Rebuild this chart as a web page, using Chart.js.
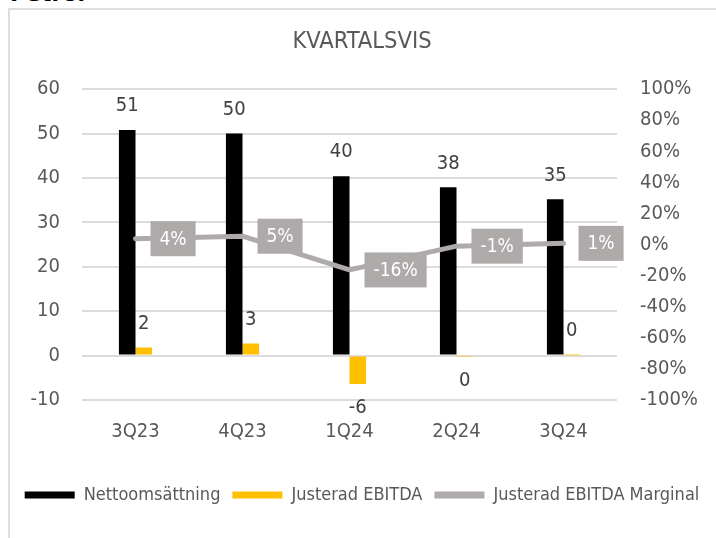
<!DOCTYPE html>
<html>
<head>
<meta charset="utf-8">
<script src="https://cdn.jsdelivr.net/npm/chart.js@4"></script>
<style>
  html, body { margin: 0; padding: 0; width: 716px; height: 538px; overflow: hidden; background: #ffffff; }
  #frame { position: absolute; left: 8px; top: 8px; width: 800px; height: 700px; border: 2px solid #dedede; box-sizing: border-box; }
  #head { position: absolute; left: 10px; top: -17px; font: bold 22px 'DejaVu Sans', sans-serif; line-height: 22px; color: #000; }
  #wrap { position: absolute; left: 0; top: 0; width: 716px; height: 538px; }
</style>
</head>
<body>
<div id="head">Petrol</div>
<div id="frame"></div>
<div id="wrap"><canvas id="c" width="716" height="538"></canvas></div>
<script>
const categories = ['3Q23', '4Q23', '1Q24', '2Q24', '3Q24'];
const nettoomsattning = [50.8, 50.0, 40.4, 37.9, 35.2];
const justeradEbitda = [1.8, 2.7, -6.4, -0.3, 0.1];
const ebitdaMarginal = [0.038, 0.054, -0.163, -0.010, 0.008];
const seriesNames = ['Nettoomsättning', 'Justerad EBITDA', 'Justerad EBITDA Marginal'];
const titleText = 'KVARTALSVIS';

const FONT = "'DejaVu Sans Condensed', 'DejaVu Sans', sans-serif";
const TEXT = '#595959';
const GRAY = '#AEAAAA';

const labelPlugin = {
  id: 'valueLabels',
  afterDatasetsDraw(chart) {
    const ctx = chart.ctx;
    ctx.save();
    [0, 1].forEach(di => {
      const meta = chart.getDatasetMeta(di);
      const data = chart.data.datasets[di].data;
      meta.data.forEach((el, i) => {
        const v = data[i];
        const r = Math.round(v);
        const txt = String(r === 0 ? 0 : r);
        ctx.font = '20px ' + FONT;
        ctx.fillStyle = '#404040';
        ctx.textAlign = 'center';
        ctx.textBaseline = 'middle';
        const y = v >= 0 ? el.y - 24 : el.y + 24;
        ctx.fillText(txt, el.x, y);
      });
    });
    const meta = chart.getDatasetMeta(2);
    const data = chart.data.datasets[2].data;
    meta.data.forEach((el, i) => {
      const txt = Math.round(data[i] * 100) + '%';
      ctx.font = '19px ' + FONT;
      const w = ctx.measureText(txt).width + 18;
      const h = 35;
      const bx = el.x + 15;
      const by = el.y - h / 2;
      ctx.fillStyle = GRAY;
      ctx.fillRect(bx, by, w, h);
      ctx.fillStyle = '#ffffff';
      ctx.textAlign = 'center';
      ctx.textBaseline = 'middle';
      ctx.fillText(txt, bx + w / 2, el.y + 1);
    });
    ctx.restore();
  }
};

new Chart(document.getElementById('c'), {
  type: 'bar',
  data: {
    labels: categories,
    datasets: [
      { type: 'bar', label: seriesNames[0], data: nettoomsattning, backgroundColor: '#000000', yAxisID: 'y', order: 1,
        categoryPercentage: 0.31, barPercentage: 1.0 },
      { type: 'bar', label: seriesNames[1], data: justeradEbitda, backgroundColor: '#FFC000', yAxisID: 'y', order: 1,
        categoryPercentage: 0.31, barPercentage: 1.0 },
      { type: 'line', label: seriesNames[2], data: ebitdaMarginal, borderColor: GRAY, backgroundColor: GRAY,
        borderWidth: 5, borderCapStyle: 'round', borderJoinStyle: 'round', pointRadius: 0, yAxisID: 'y1', order: 0, tension: 0 }
    ]
  },
  options: {
    responsive: false,
    animation: false,
    events: [],
    layout: { padding: { left: 8, right: 0, top: 0, bottom: 24 } },
    scales: {
      x: {
        grid: { display: false, drawTicks: false },
        border: { display: false },
        ticks: { font: { family: FONT, size: 20 }, color: TEXT, padding: 20 },
        afterFit(scale) { scale.height = 74; }
      },
      y: {
        position: 'left',
        min: -10, max: 60,
        ticks: { stepSize: 10, font: { family: FONT, size: 20 }, color: TEXT, padding: 22 },
        grid: { color: '#dcdcdc', lineWidth: 2, drawTicks: false },
        border: { display: false },
        afterFit(scale) { scale.width = 74; }
      },
      y1: {
        position: 'right',
        min: -1, max: 1,
        ticks: { stepSize: 0.2, font: { family: FONT, size: 20 }, color: TEXT, padding: 23,
          callback: v => Math.round(v * 100) + '%' },
        grid: { display: false, drawTicks: false },
        border: { display: false },
        afterFit(scale) { scale.width = 99; }
      }
    },
    plugins: {
      title: { display: true, text: titleText, color: TEXT, font: { family: FONT, size: 23.5, weight: 'normal' },
        padding: { top: 28, bottom: 33 } },
      legend: {
        position: 'bottom',
        labels: {
          font: { family: FONT, size: 18 }, color: TEXT, boxWidth: 50, boxHeight: 7, padding: 12,
          sort: (a, b) => a.datasetIndex - b.datasetIndex,
          generateLabels(chart) {
            const items = Chart.defaults.plugins.legend.labels.generateLabels(chart);
            items.forEach(it => { it.lineWidth = 0; });
            return items;
          }
        }
      },
      tooltip: { enabled: false }
    }
  },
  plugins: [labelPlugin]
});
</script>
</body>
</html>
